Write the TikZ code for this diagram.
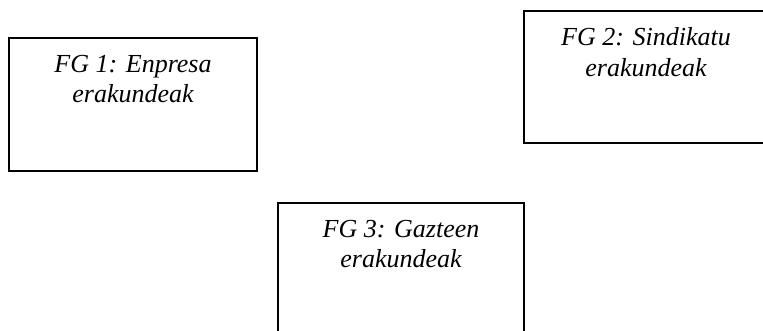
\documentclass[tikz,border=0pt]{standalone}
\usepackage{fontspec}
\setmainfont{Liberation Serif}
\usetikzlibrary{positioning}
\tikzset{
  fgbox/.style={draw=black, line width=1.8pt, rectangle, inner sep=0pt, fill=white},
  fgtext/.style={inner sep=0pt, align=center, font=\itshape\fontsize{26}{30.5}\selectfont}
}
\begin{document}
\begin{tikzpicture}[x=1pt,y=-1pt]
\useasboundingbox (0,0) rectangle (763,331);
\node[fgbox, minimum width=248pt, minimum height=133pt] (b1) at (133,104.5) {};
\node[fgbox, minimum width=244pt, minimum height=132pt] (b2) at (646,77) {};
\node[fgbox, minimum width=246pt, minimum height=134pt] (b3) at (401,270) {};
\node[fgtext, below=17.5pt of b1.north] (t1) {FG 1: Enpresa\\erakundeak};
\node[fgtext, below=17.5pt of b2.north] (t2) {FG 2: Sindikatu\\erakundeak};
\node[fgtext, below=17.5pt of b3.north] (t3) {FG 3: Gazteen\\erakundeak};
\end{tikzpicture}
\end{document}
